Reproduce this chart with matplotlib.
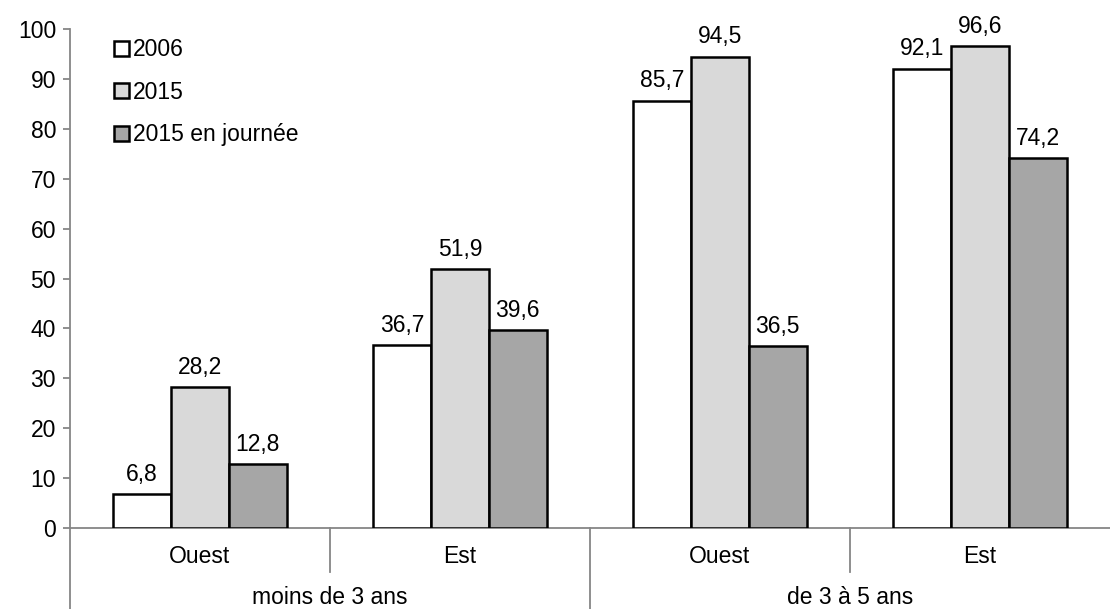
import matplotlib
matplotlib.use("Agg")
import matplotlib.pyplot as plt
from matplotlib.patches import Patch
import numpy as np

plt.rcParams['font.family'] = ['Liberation Sans', 'DejaVu Sans']

# Data
regions = ["Ouest", "Est", "Ouest", "Est"]
age_groups = ["moins de 3 ans", "de 3 à 5 ans"]
series_names = ["2006", "2015", "2015 en journée"]
values_2006 = [6.8, 36.7, 85.7, 92.1]
values_2015 = [28.2, 51.9, 94.5, 96.6]
values_2015_journee = [12.8, 39.6, 36.5, 74.2]
y_ticks = [0, 10, 20, 30, 40, 50, 60, 70, 80, 90, 100]

colors = ["#ffffff", "#d9d9d9", "#a6a6a6"]
axis_grey = "#868686"
fs = 16.5

fig = plt.figure(figsize=(11.10, 6.09), dpi=100)
ax = fig.add_axes([0.063, 0.133, 0.937, 0.819])

x = np.arange(len(regions))
width = 1 / 4.5
series = [values_2006, values_2015, values_2015_journee]
for i, (vals, col, name) in enumerate(zip(series, colors, series_names)):
    pos = x + (i - 1) * width
    bars = ax.bar(pos, vals, width, color=col, edgecolor="black", linewidth=1.8,
                  label=name, zorder=3)
    for b, v in zip(bars, vals):
        ax.annotate(f"{v:.1f}".replace(".", ","),
                    (b.get_x() + b.get_width() / 2, v),
                    xytext=(0, 6), textcoords="offset points",
                    ha="center", va="bottom", fontsize=fs)

ax.set_xlim(-0.5, 3.5)
ax.set_ylim(0, 100)
ax.set_yticks(y_ticks)
ax.tick_params(axis="y", labelsize=fs, color=axis_grey, length=5, width=1.3, pad=5)
ax.set_xticks([])

for side in ["top", "right"]:
    ax.spines[side].set_visible(False)
ax.spines["left"].set_color(axis_grey)
ax.spines["left"].set_linewidth(1.3)
ax.spines["bottom"].set_color(axis_grey)
ax.spines["bottom"].set_linewidth(1.3)

# Category separators below the axis
xt = ax.get_xaxis_transform()
ax.plot([-0.5, -0.5], [0, -0.17], transform=xt, color=axis_grey, lw=1.3, clip_on=False)
ax.plot([0.5, 0.5], [0, -0.088], transform=xt, color=axis_grey, lw=1.3, clip_on=False)
ax.plot([1.5, 1.5], [0, -0.17], transform=xt, color=axis_grey, lw=1.3, clip_on=False)
ax.plot([2.5, 2.5], [0, -0.088], transform=xt, color=axis_grey, lw=1.3, clip_on=False)

for xi, r in zip(x, regions):
    ax.text(xi, -0.058, r, transform=xt, ha="center", va="center", fontsize=fs)
for gi, g in enumerate(age_groups):
    ax.text(2 * gi + 0.5, -0.139, g, transform=xt, ha="center", va="center", fontsize=fs)

handles = [Patch(facecolor=c, edgecolor="black", linewidth=1.8) for c in colors]
ax.legend(handles, series_names, loc="upper left", bbox_to_anchor=(0.034, 1.0),
          frameon=False, fontsize=fs, handlelength=0.65, handleheight=0.65,
          handletextpad=0.15, labelspacing=0.85, borderaxespad=0)

fig.savefig("out.png", dpi=100)
